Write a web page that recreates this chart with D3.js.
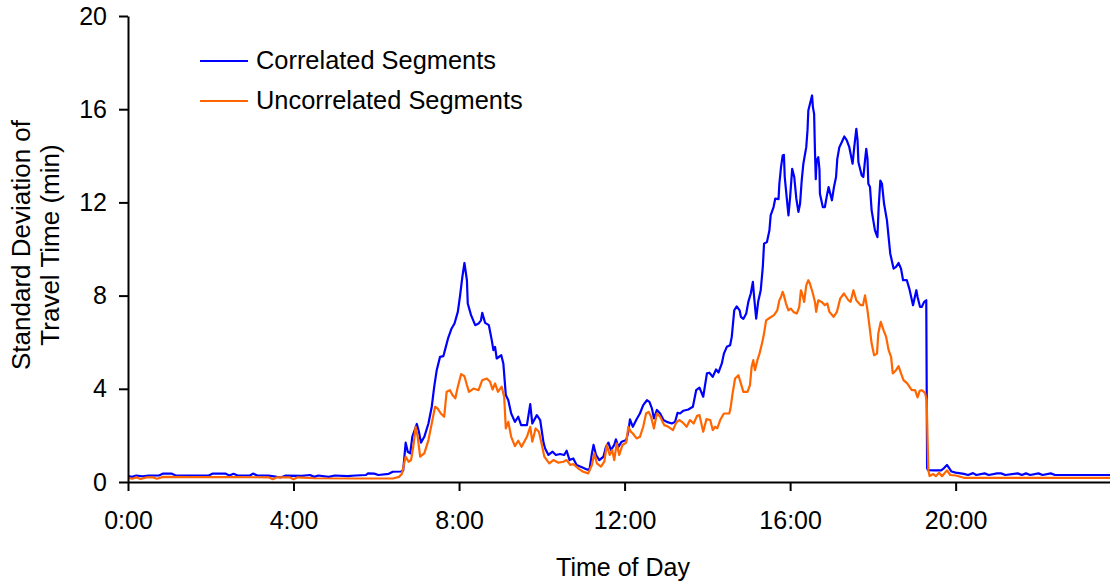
<!DOCTYPE html>
<html>
<head>
<meta charset="utf-8">
<script src="https://cdn.jsdelivr.net/npm/d3@7"></script>
<style>
  html, body { margin: 0; padding: 0; background: #ffffff; }
  svg { display: block; }
  text { font-family: "Liberation Sans", Arial, Helvetica, sans-serif; fill: #000; }
</style>
</head>
<body>
<svg id="chart" width="1110" height="582"></svg>
<script>
// ---- Data (time of day in hours, standard deviation in minutes) ----
const seriesNames = ["Correlated Segments", "Uncorrelated Segments"];
const seriesColors = ["#0000ff", "#ff6600"];
const xTickValues = [0, 4, 8, 12, 16, 20];
const xTickLabels = ["0:00", "4:00", "8:00", "12:00", "16:00", "20:00"];
const yTickValues = [0, 4, 8, 12, 16, 20];
const xDomain = [0, 23.73];
const yDomain = [0, 20];

const correlated = [
[0.0,0.25],[0.1,0.22],[0.2,0.28],[0.35,0.24],[0.5,0.27],[0.75,0.28],[0.85,0.36],[1.05,0.36],[1.15,0.28],[1.95,0.28],[2.05,0.36],[2.35,0.36],[2.45,0.28],[2.55,0.35],[2.65,0.28],[2.95,0.28],[3.02,0.36],[3.12,0.28],[3.4,0.27],[3.6,0.22],[3.7,0.2],[3.8,0.27],[4.2,0.26],[4.4,0.3],[4.5,0.22],[4.6,0.28],[4.85,0.22],[5.0,0.28],[5.3,0.25],[5.5,0.28],[5.75,0.3],[5.8,0.37],[5.95,0.36],[6.05,0.3],[6.3,0.35],[6.4,0.44],[6.6,0.45],[6.65,0.5],
[6.71,1.69],[6.76,1.3],[6.82,1.23],[6.87,1.94],[6.98,2.49],[7.03,2.16],[7.08,1.69],[7.16,1.94],[7.26,2.51],[7.34,3.23],[7.40,4.09],[7.46,4.8],[7.54,5.37],[7.62,5.4],[7.68,5.8],[7.74,6.2],[7.82,6.59],[7.89,6.8],[7.97,7.3],[8.02,7.94],[8.08,8.8],[8.13,9.4],[8.19,8.66],[8.21,7.66],[8.29,7.16],[8.39,6.73],[8.47,6.8],[8.53,6.94],[8.56,7.26],[8.63,6.83],[8.72,6.73],[8.79,6.09],[8.83,5.66],[8.87,5.8],[8.91,5.3],[9.02,5.44],[9.07,5.09],[9.13,3.73],[9.19,3.51],[9.26,2.94],[9.35,2.58],[9.43,2.8],[9.50,2.44],[9.64,2.44],[9.72,3.34],[9.77,2.51],[9.88,2.87],[9.96,2.66],
[10.04,1.7],[10.08,1.44],[10.16,1.16],[10.26,1.3],[10.34,1.16],[10.44,1.2],[10.54,1.16],[10.6,1.34],[10.67,0.94],[10.76,1.01],[10.84,0.73],[10.97,0.63],[11.09,0.54],[11.15,0.51],[11.21,1.23],[11.25,1.59],[11.31,1.16],[11.39,0.94],[11.49,1.09],[11.55,1.51],[11.61,1.69],[11.67,1.37],[11.75,1.59],[11.79,1.83],[11.85,1.51],[11.93,1.73],[12.04,1.8],[12.09,2.16],[12.13,2.69],[12.2,2.37],[12.29,2.69],[12.37,2.94],[12.45,3.3],[12.54,3.51],[12.6,3.44],[12.66,3.16],[12.71,2.73],[12.78,3.09],[12.86,2.94],[12.94,2.66],[13.02,2.58],[13.14,2.51],[13.22,2.58],[13.28,2.97],[13.34,2.94],[13.42,3.06],[13.54,3.11],[13.65,3.23],[13.73,3.94],[13.81,4.05],[13.9,3.66],[13.99,4.66],
[14.05,4.69],[14.13,4.51],[14.21,4.83],[14.27,4.7],[14.35,5.09],[14.4,5.51],[14.47,5.8],[14.55,5.87],[14.59,6.23],[14.65,7.37],[14.71,7.54],[14.78,7.37],[14.81,7.09],[14.87,7.0],[14.94,7.23],[14.99,7.73],[15.05,8.09],[15.1,8.59],[15.13,7.94],[15.18,7.01],[15.23,7.76],[15.29,8.23],[15.34,9.23],[15.37,10.23],[15.44,10.3],[15.5,10.8],[15.53,11.44],[15.6,11.8],[15.64,12.16],[15.72,12.14],[15.74,12.8],[15.78,13.51],[15.82,14.01],[15.85,14.04],[15.87,13.09],[15.92,12.16],[15.96,11.44],[16.0,12.23],[16.05,13.44],[16.1,13.09],[16.15,12.16],[16.2,11.59],[16.24,11.94],[16.28,12.94],[16.32,13.66],[16.39,14.37],[16.42,15.09],[16.44,15.94],[16.5,16.37],[16.53,16.59],[16.55,16.1],[16.58,15.8],[16.6,14.23],[16.62,13.0],[16.64,13.8],[16.68,13.94],[16.71,13.4],[16.72,12.37],[16.79,11.8],[16.84,11.8],[16.89,12.3],[16.93,12.66],[16.97,12.37],
[17.01,12.09],[17.06,12.66],[17.11,13.09],[17.14,13.87],[17.19,14.37],[17.25,14.59],[17.31,14.83],[17.37,14.66],[17.43,14.37],[17.47,14.01],[17.51,13.66],[17.55,14.37],[17.6,15.16],[17.63,14.66],[17.65,13.73],[17.69,13.44],[17.73,13.16],[17.77,13.09],[17.81,13.8],[17.84,14.3],[17.87,13.87],[17.89,12.8],[17.93,12.66],[17.97,11.66],[18.01,11.23],[18.05,10.8],[18.11,10.51],[18.14,11.8],[18.18,12.94],[18.22,12.8],[18.27,11.94],[18.34,11.23],[18.38,10.51],[18.42,9.8],[18.5,9.16],[18.56,9.23],[18.62,9.4],[18.68,9.16],[18.73,8.66],[18.82,8.66],[18.88,8.3],[18.97,7.59],[19.05,8.23],[19.08,7.94],[19.14,7.51],[19.18,7.51],[19.24,7.73],[19.29,7.8],[19.31,0.6],[19.33,0.51],
[19.5,0.5],[19.65,0.5],[19.72,0.6],[19.79,0.73],[19.9,0.45],[20.0,0.4],[20.2,0.35],[20.3,0.3],[20.42,0.38],[20.5,0.3],[20.7,0.37],[20.8,0.3],[21.0,0.37],[21.1,0.37],[21.2,0.3],[21.5,0.37],[21.6,0.3],[21.7,0.37],[21.8,0.3],[22.0,0.37],[22.1,0.3],[22.3,0.37],[22.4,0.3],[23.73,0.3]
];

const uncorrelated = [
[0.0,0.18],[0.1,0.14],[0.2,0.2],[0.3,0.13],[0.45,0.2],[0.6,0.2],[0.7,0.14],[0.85,0.22],[1.5,0.21],[2.5,0.21],[3.4,0.2],[3.5,0.12],[3.6,0.2],[3.9,0.2],[4.0,0.12],[4.1,0.2],[4.5,0.16],[5.5,0.15],[6.4,0.15],[6.55,0.22],[6.62,0.35],
[6.71,1.09],[6.78,0.87],[6.84,0.94],[6.90,1.59],[6.95,2.37],[7.0,1.94],[7.06,1.09],[7.16,1.23],[7.26,1.8],[7.34,2.51],[7.42,3.23],[7.48,3.16],[7.56,2.94],[7.64,2.8],[7.70,3.87],[7.78,3.94],[7.84,3.73],[7.91,3.59],[7.97,4.09],[8.05,4.63],[8.13,4.54],[8.19,4.16],[8.24,3.87],[8.35,4.01],[8.47,3.94],[8.56,4.37],[8.67,4.44],[8.75,4.3],[8.81,3.97],[8.87,4.23],[8.94,3.87],[9.03,4.09],[9.09,3.66],[9.13,2.3],[9.19,2.58],[9.26,1.94],[9.35,1.54],[9.43,1.77],[9.51,1.51],[9.64,1.94],[9.72,2.37],[9.77,1.73],[9.85,2.3],[9.93,2.16],
[10.0,1.6],[10.06,1.09],[10.18,0.8],[10.28,0.94],[10.4,0.83],[10.52,0.87],[10.6,0.94],[10.69,0.73],[10.76,0.77],[10.91,0.54],[11.0,0.44],[11.12,0.37],[11.21,0.73],[11.27,1.23],[11.33,0.8],[11.43,0.66],[11.51,0.87],[11.57,1.59],[11.64,1.16],[11.7,1.37],[11.75,0.94],[11.81,1.66],[11.87,1.16],[11.95,1.59],[12.04,1.69],[12.09,2.37],[12.15,2.16],[12.2,2.08],[12.29,1.87],[12.37,1.94],[12.45,2.37],[12.52,2.94],[12.58,3.01],[12.64,2.8],[12.71,2.3],[12.78,2.94],[12.86,2.8],[12.96,2.44],[13.06,2.37],[13.17,2.23],[13.25,2.56],[13.32,2.66],[13.4,2.56],[13.5,2.37],[13.58,2.66],[13.67,2.51],[13.75,2.84],[13.81,2.87],[13.9,2.16],[13.98,2.7],
[14.07,2.66],[14.13,2.23],[14.19,2.37],[14.24,2.3],[14.31,2.66],[14.4,2.94],[14.53,2.94],[14.56,3.16],[14.61,3.8],[14.67,4.44],[14.75,4.58],[14.81,4.23],[14.87,3.87],[14.97,3.87],[15.03,4.16],[15.07,4.94],[15.11,5.23],[15.15,4.8],[15.21,5.23],[15.26,5.51],[15.32,5.94],[15.37,6.37],[15.42,6.94],[15.52,7.06],[15.61,7.16],[15.69,7.37],[15.74,7.8],[15.78,7.94],[15.82,8.16],[15.85,8.01],[15.9,7.66],[15.96,7.37],[16.02,7.44],[16.08,7.3],[16.16,7.23],[16.22,7.51],[16.26,8.23],[16.29,8.09],[16.34,7.73],[16.39,8.44],[16.44,8.66],[16.48,8.51],[16.55,8.09],[16.6,7.73],[16.63,7.3],[16.68,7.8],[16.76,7.73],[16.84,7.59],[16.9,7.66],[16.95,7.3],
[17.05,7.09],[17.13,7.3],[17.21,7.87],[17.3,8.09],[17.41,7.8],[17.46,7.73],[17.53,8.23],[17.6,7.8],[17.7,7.59],[17.76,7.59],[17.81,8.01],[17.87,7.37],[17.92,6.66],[17.97,5.94],[18.03,5.44],[18.1,5.51],[18.13,6.37],[18.19,6.87],[18.26,6.51],[18.32,6.23],[18.38,5.66],[18.44,5.37],[18.48,4.66],[18.56,4.8],[18.62,4.97],[18.68,4.66],[18.74,4.37],[18.83,4.23],[18.94,3.94],[19.02,3.94],[19.08,3.63],[19.13,3.91],[19.18,3.94],[19.26,3.83],[19.3,3.51],[19.32,1.94],[19.34,0.51],[19.37,0.26],
[19.46,0.34],[19.52,0.25],[19.6,0.4],[19.67,0.25],[19.79,0.5],[19.87,0.3],[20.0,0.28],[20.2,0.18],[23.73,0.18]
];

// ---- Layout ----
const svg = d3.select("#chart");
const plot = { left: 128, right: 1110, top: 16, bottom: 482 };
const x = d3.scaleLinear().domain(xDomain).range([plot.left, plot.right]);
const y = d3.scaleLinear().domain(yDomain).range([plot.bottom, plot.top]);
const fontSize = 25;

svg.append("defs").append("clipPath").attr("id", "clip")
  .append("rect").attr("x", plot.left).attr("y", plot.top - 2)
  .attr("width", plot.right - plot.left).attr("height", plot.bottom - plot.top + 2);

// ---- Lines ----
const line = d3.line().x(d => x(d[0])).y(d => y(d[1]));
const allSeries = [correlated, uncorrelated];
[0, 1].forEach(i => {
  svg.append("path")
    .datum(allSeries[i])
    .attr("clip-path", "url(#clip)")
    .attr("fill", "none")
    .attr("stroke", seriesColors[i])
    .attr("stroke-width", 2.2)
    .attr("stroke-linejoin", "round")
    .attr("d", line);
});

// ---- Axes ----
const xAxis = d3.axisBottom(x)
  .tickValues(xTickValues)
  .tickFormat((d, i) => xTickLabels[i])
  .tickSize(9).tickSizeOuter(0).tickPadding(20);
const gx = svg.append("g").attr("transform", `translate(0,${plot.bottom})`).call(xAxis);

const yAxis = d3.axisLeft(y)
  .tickValues(yTickValues)
  .tickSize(9).tickSizeOuter(0).tickPadding(12);
const gy = svg.append("g").attr("transform", `translate(${plot.left},0)`).call(yAxis);

[gx, gy].forEach(g => {
  g.select(".domain").attr("stroke", "#000").attr("stroke-width", 2);
  g.selectAll(".tick line").attr("stroke", "#000").attr("stroke-width", 2);
  g.selectAll(".tick text")
    .attr("font-family", "Liberation Sans, Arial, sans-serif")
    .attr("font-size", fontSize).attr("fill", "#000");
});

// ---- Axis titles ----
svg.append("text")
  .attr("x", 623).attr("y", 576)
  .attr("text-anchor", "middle")
  .attr("font-size", fontSize)
  .text("Time of Day");

svg.append("text")
  .attr("transform", "translate(30,245) rotate(-90)")
  .attr("text-anchor", "middle")
  .attr("font-size", 26)
  .text("Standard Deviation of");
svg.append("text")
  .attr("transform", "translate(59,245) rotate(-90)")
  .attr("text-anchor", "middle")
  .attr("font-size", 26)
  .text("Travel Time (min)");

// ---- Legend ----
const legend = svg.append("g");
seriesNames.forEach((name, i) => {
  const ly = 61 + i * 40;
  legend.append("line")
    .attr("x1", 200).attr("x2", 248)
    .attr("y1", ly).attr("y2", ly)
    .attr("stroke", seriesColors[i]).attr("stroke-width", 2);
  legend.append("text")
    .attr("x", 256).attr("y", ly + 7.5)
    .attr("font-size", 25.4)
    .text(name);
});
</script>
</body>
</html>
